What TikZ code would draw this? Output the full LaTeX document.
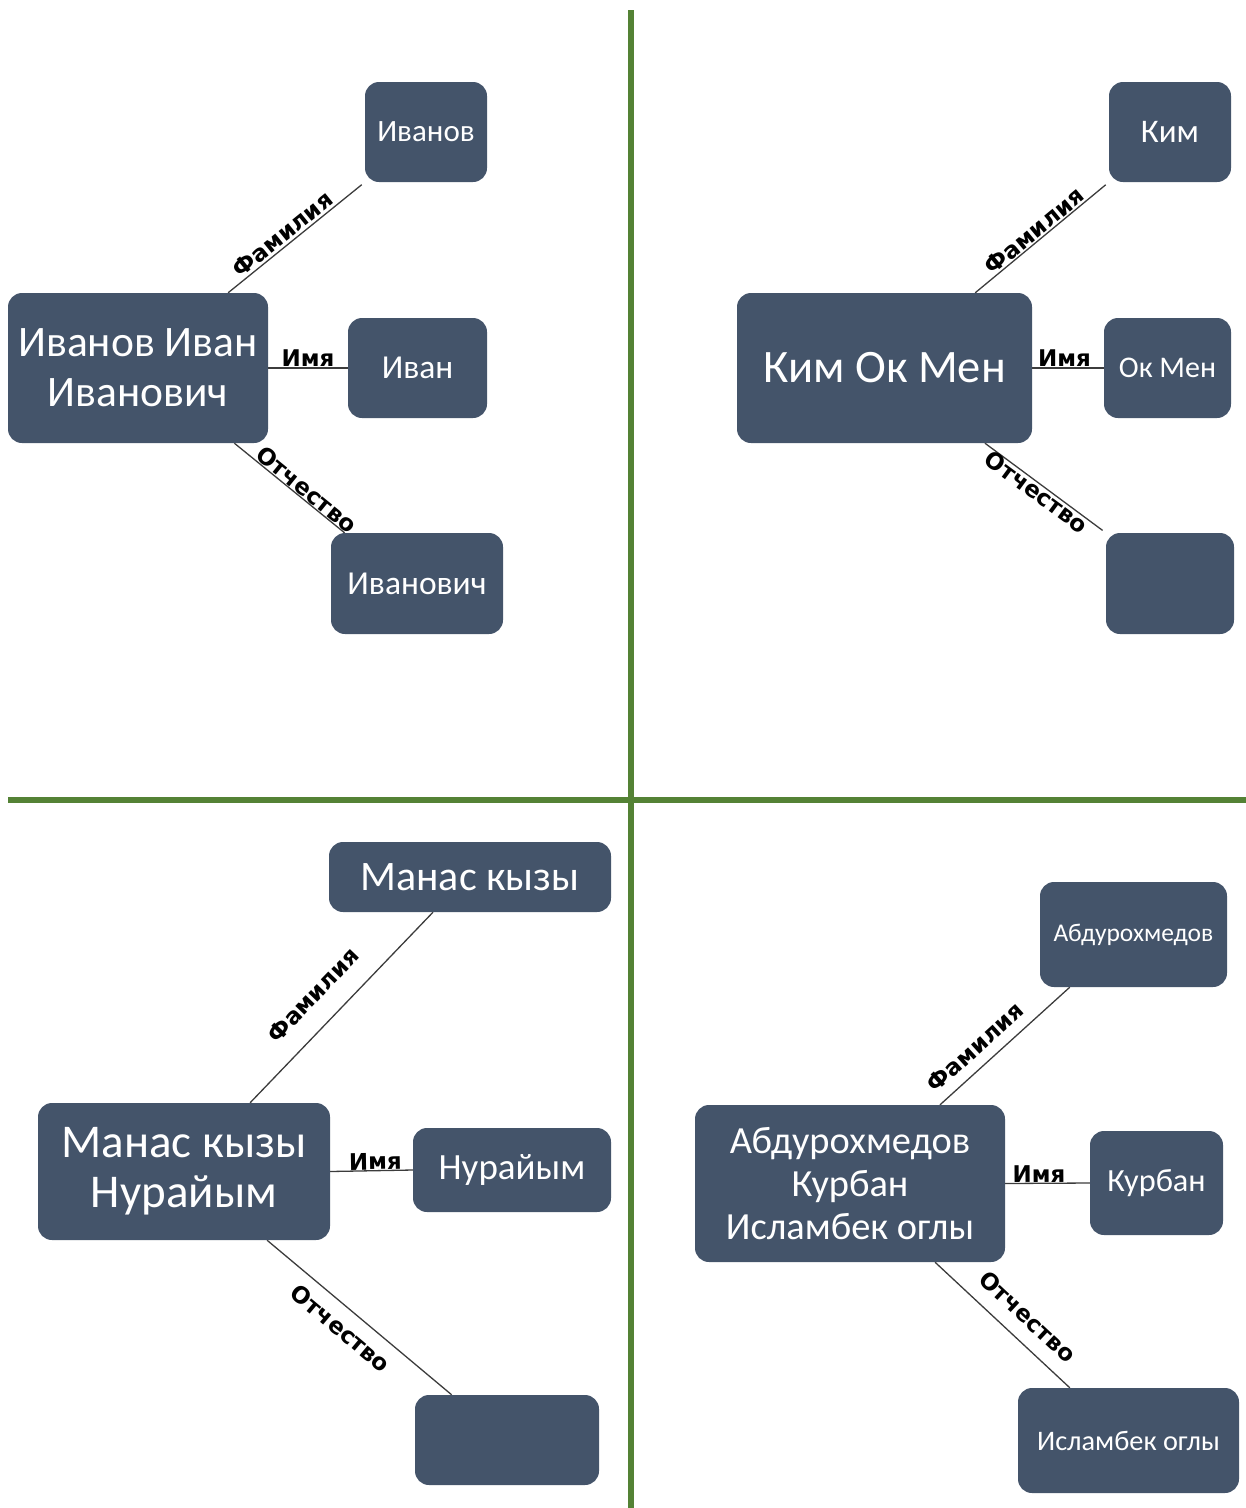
\documentclass[tikz,border=0pt]{standalone}
\usepackage{fontspec}
\setmainfont{Carlito}
\newfontfamily\lblfont{DejaVu Sans}
\usetikzlibrary{calc}
\pgfdeclarelayer{bg}
\pgfsetlayers{bg,main}
\definecolor{boxc}{RGB}{68,84,106}
\definecolor{greenc}{RGB}{84,130,53}
\definecolor{linec}{RGB}{60,60,60}
\newcommand{\fs}[2]{\fontsize{#1}{#2}\selectfont}
\tikzset{
  box/.style={fill=boxc, rounded corners=14pt, text=white, align=center, inner sep=0pt},
  lbl/.style={font=\lblfont\bfseries\fs{23}{26}, sloped, text=black},
  conn/.style={draw=linec, line width=1.3pt},
  divider/.style={draw=greenc, line width=6pt}
}
\begin{document}
\begin{tikzpicture}[x=1pt,y=-1pt]
\useasboundingbox (0,0) rectangle (1246,1508);
% dividers
\draw[divider] (631,10) -- (631,1508);
\draw[divider] (8,800) -- (1246,800);
% Q1
\node[box, minimum width=260pt, minimum height=150pt, font=\fs{43.5}{50}] (m1) at (138,368) {Иванов Иван\\Иванович};
\node[box, minimum width=122pt, minimum height=100pt, font=\fs{31}{34}] (f1) at (426,132) {Иванов};
\node[box, minimum width=139pt, minimum height=100pt, font=\fs{33.5}{36}] (i1) at (417.5,368) {Иван};
\node[box, minimum width=172pt, minimum height=101pt, font=\fs{33.5}{36}] (o1) at (417,583.5) {Иванович};
% Q2
\node[box, minimum width=295pt, minimum height=150pt, font=\fs{46.5}{50}] (m2) at (884.5,368) {Ким Ок Мен};
\node[box, minimum width=122pt, minimum height=100pt, font=\fs{33}{36}] (f2) at (1170,132) {Ким};
\node[box, minimum width=127pt, minimum height=100pt, font=\fs{30}{34}] (i2) at (1167.5,368) {Ок Мен};
\node[box, minimum width=128pt, minimum height=101pt] (o2) at (1170,583.5) {};
% Q3
\node[box, minimum width=292pt, minimum height=137pt, font=\fs{47}{50}] (m3) at (184,1171.5) {Манас кызы\\Нурайым};
\node[box, minimum width=282pt, minimum height=70pt, font=\fs{42}{46}] (f3) at (470,877) {Манас кызы};
\node[box, minimum width=198pt, minimum height=84pt, font=\fs{37}{40}] (i3) at (512,1170) {Нурайым};
\node[box, minimum width=184pt, minimum height=90pt] (o3) at (507,1440) {};
% Q4
\node[box, minimum width=310pt, minimum height=157pt, font=\fs{38.4}{43}] (m4) at (850,1183.5) {Абдурохмедов\\Курбан\\Исламбек оглы};
\node[box, minimum width=187pt, minimum height=105pt, font=\fs{25.5}{28}] (f4) at (1133.5,934.5) {Абдурохмедов};
\node[box, minimum width=133pt, minimum height=104pt, font=\fs{32.3}{36}] (i4) at (1156.5,1183) {Курбан};
\node[box, minimum width=221pt, minimum height=105pt, font=\fs{28.3}{32}] (o4) at (1128.5,1440.5) {Исламбек оглы};
\begin{pgfonlayer}{bg}
% Q1 connectors
\draw[conn, shorten >=4pt] ($(m1.north west)!0.846!(m1.north east)$) -- node[lbl, above, pos=0.45, inner sep=2pt] {Фамилия} (f1.south west);
\draw[conn] (m1.east) -- node[lbl, above, pos=0.5, inner sep=0.5pt] {Имя} (i1.west);
\draw[conn] ($(m1.south west)!0.87!(m1.south east)$) -- node[lbl, above, pos=0.6, inner sep=0.5pt] {Отчество} ($(o1.north west)!0.08!(o1.north east)$);
% Q2 connectors
\draw[conn, shorten >=4pt] ($(m2.north west)!0.807!(m2.north east)$) -- node[lbl, above, pos=0.49, inner sep=1pt] {Фамилия} (f2.south west);
\draw[conn] (m2.east) -- node[lbl, above, pos=0.45, inner sep=0.5pt] {Имя} (i2.west);
\draw[conn, shorten >=4pt] ($(m2.south west)!0.84!(m2.south east)$) -- node[lbl, below, pos=0.47, inner sep=-1pt] {Отчество} (o2.north west);
% Q3 connectors
\draw[conn] ($(m3.north west)!0.726!(m3.north east)$) -- node[lbl, above, pos=0.46, inner sep=20pt] {Фамилия} ($(f3.south west)!0.369!(f3.south east)$);
\draw[conn] (m3.east) -- node[lbl, above, pos=0.55, inner sep=0.5pt] {Имя} (i3.west);
\draw[conn] ($(m3.south west)!0.784!(m3.south east)$) -- node[lbl, below, pos=0.47, inner sep=11pt] {Отчество} ($(o3.north west)!0.2!(o3.north east)$);
% Q4 connectors
\draw[conn] ($(m4.north west)!0.79!(m4.north east)$) -- node[lbl, above, pos=0.37, inner sep=10pt] {Фамилия} ($(f4.south west)!0.16!(f4.south east)$);
\draw[conn] (m4.east) -- node[lbl, above, pos=0.4, inner sep=0.5pt] {Имя} (i4.west);
\draw[conn] ($(m4.south west)!0.774!(m4.south east)$) -- node[lbl, above, pos=0.57, inner sep=14pt] {Отчество} ($(o4.north west)!0.235!(o4.north east)$);
\end{pgfonlayer}
\end{tikzpicture}
\end{document}
